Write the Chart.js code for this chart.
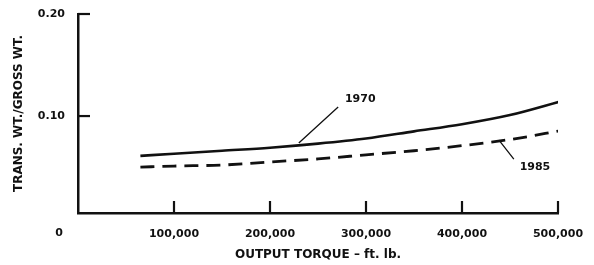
<!DOCTYPE html>
<html>
<head>
<meta charset="utf-8">
<script src="https://cdn.jsdelivr.net/npm/chart.js@4/dist/chart.umd.min.js"></script>
<style>
	html, body { margin:0; padding:0; background:#fff; }
	#wrap { width:594px; height:265px; position:relative; }
</style>
</head>
<body>
<div id="wrap"><canvas id="torqueChart" width="594" height="265"></canvas></div>
<script>
	// torque (ft. lb.)
	var torque = [65000, 100000, 150000, 200000, 250000, 300000, 350000, 400000, 450000, 505000];
	var ratio1970 = [0.061, 0.063, 0.066, 0.069, 0.073, 0.078, 0.085, 0.092, 0.101, 0.115];
	var ratio1985 = [0.050, 0.051, 0.052, 0.055, 0.058, 0.062, 0.066, 0.071, 0.077, 0.086];
	var xTicks = [0, 100000, 200000, 300000, 400000, 500000];
	var yTicks = [0.10, 0.20];

	var ink = "#111";
	var fnt = "'DejaVu Sans', sans-serif";

	function pts(ys){
		var out = [];
		for (var i = 0; i < torque.length; i++) out.push({x: torque[i], y: ys[i]});
		return out;
	}

	function fmt(v){
		return v.toLocaleString("en-US");
	}

	// inward tick marks, the "0" origin label and the year call-outs
	var extras = {
		id: "extras",
		afterDraw: function(chart){
			var c = chart.ctx, xs = chart.scales.x, ys = chart.scales.y, a = chart.chartArea;
			c.save();
			c.strokeStyle = ink;
			c.lineWidth = 2.2;
			xTicks.forEach(function(v){
				if (v === 0) return;
				var px = xs.getPixelForValue(v);
				c.beginPath(); c.moveTo(px, a.bottom); c.lineTo(px, a.bottom - 12); c.stroke();
			});
			yTicks.forEach(function(v){
				var py = ys.getPixelForValue(v);
				c.beginPath(); c.moveTo(a.left, py); c.lineTo(a.left + 12, py); c.stroke();
			});

			c.fillStyle = ink;
			c.font = "bold 11px " + fnt;
			c.textAlign = "center";
			c.textBaseline = "middle";
			c.fillText("0", xs.getPixelForValue(0) - 19, a.bottom + 20);

			// leader lines
			c.lineWidth = 1.3;
			c.beginPath();
			c.moveTo(xs.getPixelForValue(271000), ys.getPixelForValue(0.1088));
			c.lineTo(xs.getPixelForValue(230000), ys.getPixelForValue(0.0735));
			c.moveTo(xs.getPixelForValue(438500), ys.getPixelForValue(0.0765));
			c.lineTo(xs.getPixelForValue(454000), ys.getPixelForValue(0.0578));
			c.stroke();

			c.font = "bold 11px " + fnt;
			c.fillText("1970", xs.getPixelForValue(294000), ys.getPixelForValue(0.1167));
			c.fillText("1985", xs.getPixelForValue(476000), ys.getPixelForValue(0.050));
			c.restore();
		}
	};

	var conf_line = {
		type: "line",
		data: {
			datasets: [{
				label: "1970",
				data: pts(ratio1970),
				borderColor: ink,
				borderWidth: 2.6,
				pointRadius: 0,
				cubicInterpolationMode: "monotone"
			}, {
				label: "1985",
				data: pts(ratio1985),
				borderColor: ink,
				borderWidth: 2.8,
				borderDash: [14, 8],
				pointRadius: 0,
				cubicInterpolationMode: "monotone"
			}]
		},
		options: {
			responsive: false,
			animation: false,
			layout: { padding: { top: 14, right: 36, left: 0, bottom: 0 } },
			plugins: { legend: { display: false }, tooltip: { enabled: false } },
			scales: {
				x: {
					type: "linear",
					min: 0,
					max: 500000,
					afterBuildTicks: function(s){ s.ticks = xTicks.map(function(v){ return {value: v}; }); },
					afterFit: function(s){
						s.height = 52;
						s.paddingLeft = 0;
						s.paddingRight = 0;
					},
					grid: { display: false, drawTicks: false },
					border: { display: true, color: ink, width: 2.5 },
					ticks: {
						padding: 15,
						color: ink,
						maxRotation: 0,
						font: { family: fnt, size: 11, weight: "bold" },
						callback: function(v){ return v === 0 ? "" : fmt(v); }
					},
					title: {
						display: true,
						text: "OUTPUT TORQUE \u2013 ft. lb.",
						color: ink,
						font: { family: fnt, size: 12, weight: "bold" },
						padding: { top: 0, bottom: 3 }
					}
				},
				y: {
					min: 0.005,
					max: 0.20,
					afterBuildTicks: function(s){ s.ticks = yTicks.map(function(v){ return {value: v}; }); },
					afterFit: function(s){
						s.width = 78;
						s.paddingTop = 0;
						s.paddingBottom = 0;
					},
					grid: { display: false, drawTicks: false },
					border: { display: true, color: ink, width: 2.5 },
					ticks: {
						padding: 13,
						color: ink,
						font: { family: fnt, size: 11, weight: "bold" },
						callback: function(v){ return v.toFixed(2); }
					},
					title: {
						display: true,
						text: "TRANS. WT./GROSS WT.",
						color: ink,
						font: { family: fnt, size: 12, weight: "bold" },
						padding: { top: 12, bottom: 0 }
					}
				}
			}
		},
		plugins: [extras]
	};

	var ctx = document.getElementById("torqueChart").getContext("2d");
	var torque_chart = new Chart(ctx, conf_line);
</script>
</body>
</html>
